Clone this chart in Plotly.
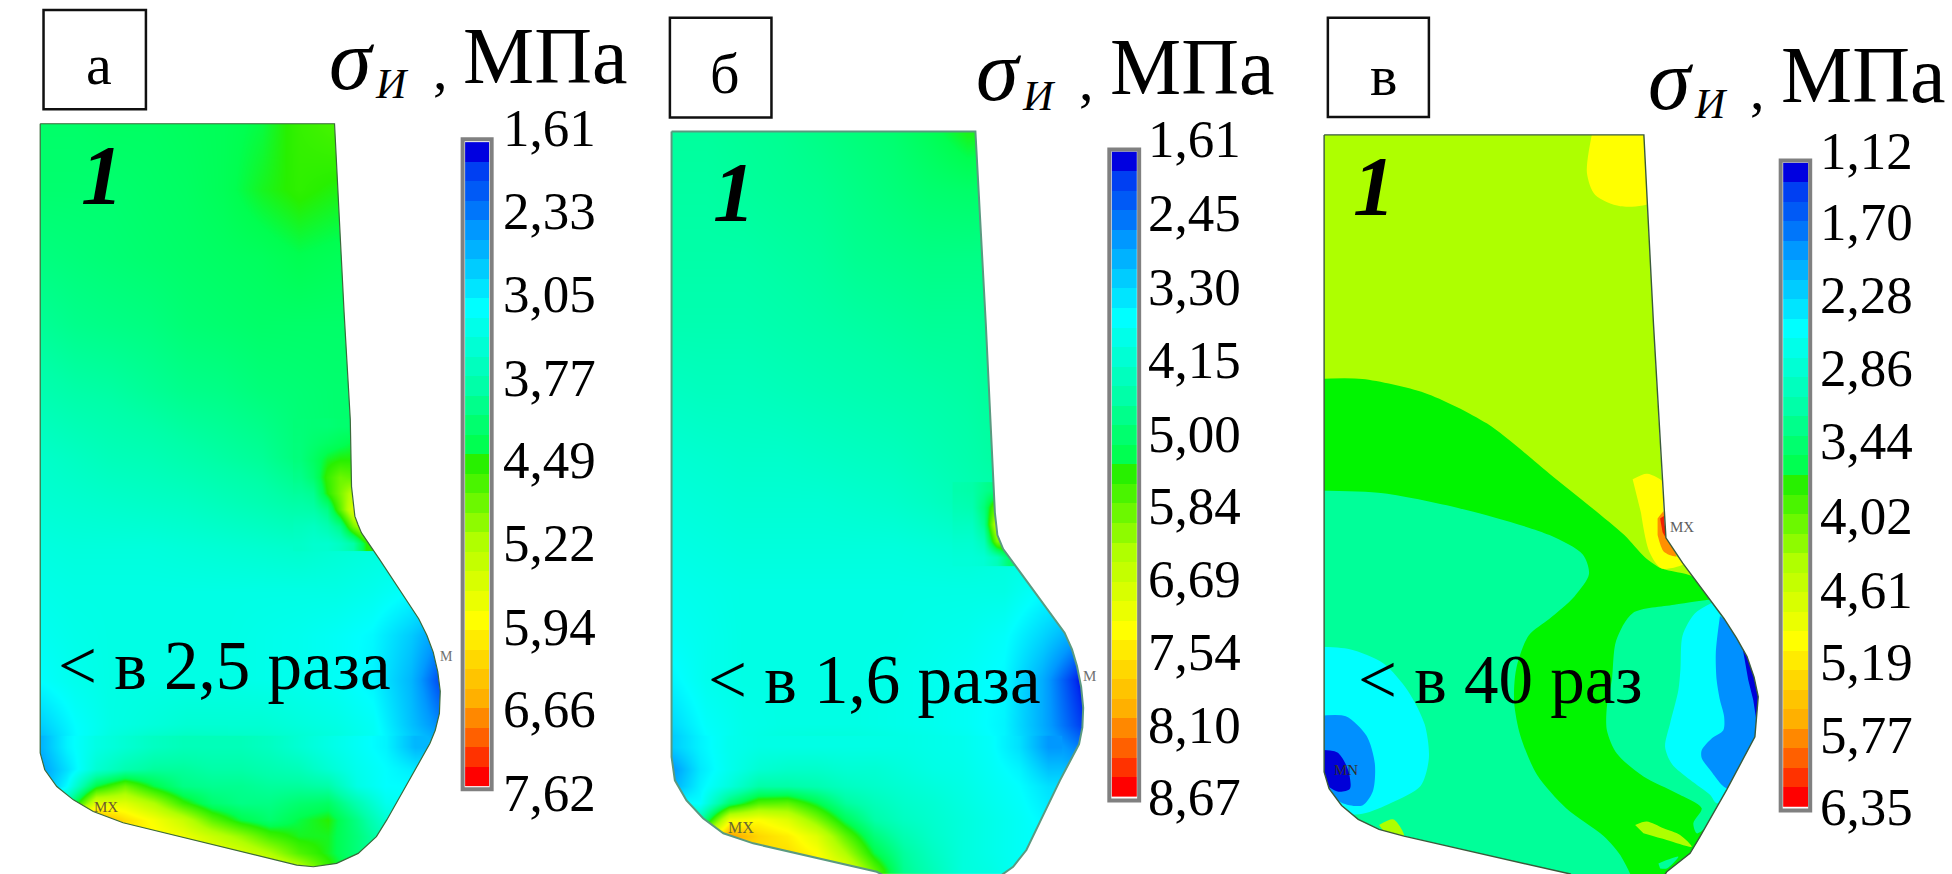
import plotly.graph_objects as go

# Contour levels: position along each scale bar, 0 = first label (blue), 8 = last label (red)
colorscale_levels = [
 [0.000,"#0000E0"],[0.030,"#0030F0"],[0.125,"#0098FF"],[0.250,"#00FFFF"],[0.375,"#00FFA8"],
 [0.470,"#00FF50"],[0.500,"#28F000"],[0.625,"#B0FF00"],[0.750,"#FFFF00"],[0.875,"#FFB000"],
 [0.950,"#FF5000"],[1.000,"#FF0000"]]

bar_levels = [0,0.35,0.55,0.75,1,1.25,1.5,1.75,2,2.25,2.5,2.75,3,3.25,3.5,3.75,4,4.25,4.5,4.75,5,5.25,5.5,5.75,6,6.25,6.5,6.75,7,7.25,7.5,7.75,8]

labels_a = ["1,61","2,33","3,05","3,77","4,49","5,22","5,94","6,66","7,62"]
labels_b = ["1,61","2,45","3,30","4,15","5,00","5,84","6,69","7,54","8,10","8,67"]
labels_c = ["1,12","1,70","2,28","2,86","3,44","4,02","4,61","5,19","5,77","6,35"]
labels_a_y = [230,378,528,678,825,975,1125,1272,1422]
labels_b_y = [250,382,514,645,778,908,1038,1170,1300,1430]
labels_c_y = [270,398,530,660,792,925,1058,1188,1318,1448]

out_a = [(97,222),(807,222),(830,560),(845,753),(848,873),(852,905),(856,926),(864,942),(872,956),(916,1004),(1010,1110),(1030,1140),(1045,1170),(1056,1205),(1062,1240),(1060,1280),(1050,1310),(1037,1334),(933,1471),(908,1501),(864,1531),(812,1549),(756,1555),(716,1552),(297,1476),(225,1456),(177,1435),(137,1411),(108,1381),(97,1351),(97,222)]
out_b = [(52,236),(785,236),(810,580),(832,920),(838,960),(852,985),(1000,1135),(1018,1165),(1030,1195),(1040,1232),(1045,1270),(1043,1305),(1035,1335),(989,1400),(908,1525),(876,1555),(844,1572),(810,1600),(640,1600),(547,1564),(249,1513),(177,1495),(128,1468),(88,1436),(60,1400),(52,1358),(52,236)]
out_c = [(58,242),(827,242),(850,580),(875,920),(880,965),(920,1010),(1020,1110),(1050,1145),(1075,1178),(1092,1215),(1102,1250),(1094,1322),(1026,1417),(962,1501),(938,1531),(882,1564),(850,1600),(700,1600),(650,1568),(250,1500),(190,1488),(140,1470),(100,1445),(70,1415),(58,1385),(58,242)]

grid_a_x = [90,180,270,360,450,540,630,720,810,900,990,1070]
grid_a_y = [220,340,460,580,700,820,900,980,1060,1140,1220,1300,1360,1420,1470,1520,1568]
grid_a = [
 [3.55,3.55,3.6,3.6,3.65,3.7,3.8,4.1,4.25,4.2,4.2,4.2],
 [3.5,3.5,3.5,3.55,3.6,3.7,3.9,4.05,3.95,3.9,3.9,3.9],
 [3.35,3.4,3.45,3.5,3.55,3.6,3.65,3.75,3.7,3.7,3.7,3.7],
 [3.15,3.25,3.3,3.35,3.45,3.5,3.55,3.55,3.55,3.55,3.5,3.5],
 [2.9,3.0,3.05,3.15,3.25,3.3,3.4,3.45,3.5,3.5,3.5,3.5],
 [2.6,2.7,2.8,2.85,2.95,3.05,3.15,3.4,3.5,3.6,3.6,3.6],
 [2.5,2.55,2.6,2.65,2.7,2.8,2.9,3.05,3.2,3.2,3.2,3.2],
 [2.35,2.4,2.4,2.4,2.45,2.5,2.55,2.6,2.5,2.4,2.4,2.4],
 [2.25,2.3,2.3,2.3,2.3,2.3,2.3,2.3,2.3,2.2,2.0,2.0],
 [2.15,2.25,2.3,2.3,2.3,2.3,2.25,2.2,2.1,1.95,1.5,0.9],
 [2.0,2.2,2.3,2.3,2.3,2.3,2.25,2.2,2.1,1.9,1.3,0.3],
 [1.5,2.0,2.3,2.4,2.5,2.5,2.5,2.4,2.3,2.1,1.4,0.8],
 [1.0,1.9,2.5,2.9,3.0,2.9,2.8,2.7,2.5,2.2,1.7,1.6],
 [2.5,3.8,5.0,5.3,4.4,3.4,3.0,2.9,2.8,2.4,2.3,2.2],
 [6.0,7.0,5.8,5.9,5.2,4.2,3.6,3.6,3.3,2.8,2.5,2.5],
 [6.0,6.0,6.0,6.0,5.8,5.3,4.6,4.1,4.0,3.4,3.0,3.0],
 [5.5,5.5,5.5,5.5,5.5,5.5,5.0,4.6,4.3,3.6,3.0,3.0]]

base_a_x = [90,160,230,300,370,440,510,580,650,720,790,860,930,1000]
base_a_y = [1340,1380,1410,1440,1470,1500,1530,1560]
base_a = [
 [1.2,1.9,2.3,2.5,2.7,2.8,2.8,2.8,2.7,2.5,2.3,2.1,1.9,1.3],
 [1.0,1.7,2.5,2.9,3.1,3.1,3.0,3.0,2.9,2.8,2.5,2.2,2.0,1.8],
 [1.0,2.0,3.8,4.5,3.8,3.3,3.2,3.2,3.1,3.1,3.0,2.3,2.0,2.0],
 [2.0,3.0,5.6,5.6,5.0,4.1,3.5,3.3,3.3,3.5,3.6,2.9,2.2,2.0],
 [6.0,6.5,7.2,6.4,5.9,5.3,4.4,3.8,3.5,3.8,4.0,3.3,2.5,2.2],
 [6.0,6.5,6.5,6.3,6.1,5.8,5.3,4.8,4.2,3.9,3.9,3.4,2.8,2.4],
 [6.2,6.2,6.2,6.2,6.2,6.1,5.8,5.5,5.0,4.3,3.9,3.4,2.8,2.4],
 [6.2,6.2,6.2,6.2,6.2,6.2,6.2,6.0,5.8,5.3,4.2,3.4,2.8,2.4]]

notch_a_x = [723,755,788,820,852,884]
notch_a_y = [765,795,825,855,885,914,944,974]
notch_a = [
 [3.42,3.45,3.45,3.5,3.5,3.5],
 [3.4,3.5,3.6,3.7,3.8,3.8],
 [3.38,3.6,3.9,4.0,4.0,4.0],
 [3.25,3.5,4.1,4.5,4.4,4.4],
 [3.1,3.2,4.0,4.6,5.2,5.2],
 [2.95,3.0,3.3,4.4,5.6,5.9],
 [2.75,2.7,2.9,3.3,4.6,5.4],
 [2.62,2.55,2.55,2.7,3.0,4.0]]

grid_b_x = [45,135,225,315,405,495,585,675,765,855,945,1045]
grid_b_y = [230,340,460,580,700,820,900,980,1060,1140,1220,1300,1360,1420,1470,1520,1570]
grid_b = [
 [3.1,3.1,3.15,3.2,3.3,3.4,3.5,3.7,3.95,3.95,3.9,3.9],
 [3.05,3.05,3.1,3.15,3.2,3.3,3.4,3.5,3.55,3.5,3.5,3.5],
 [3.0,3.0,3.0,3.05,3.1,3.2,3.25,3.3,3.3,3.3,3.3,3.3],
 [2.9,2.9,2.9,2.95,3.0,3.05,3.1,3.15,3.15,3.2,3.2,3.2],
 [2.7,2.75,2.75,2.8,2.85,2.9,2.95,3.0,3.05,3.15,3.2,3.2],
 [2.5,2.55,2.6,2.6,2.65,2.7,2.75,2.85,2.95,3.1,3.1,3.1],
 [2.4,2.45,2.5,2.5,2.5,2.55,2.6,2.7,2.85,3.0,3.0,3.0],
 [2.3,2.35,2.4,2.4,2.4,2.4,2.4,2.45,2.5,2.4,2.4,2.4],
 [2.2,2.25,2.3,2.3,2.3,2.3,2.3,2.3,2.3,2.3,2.0,2.0],
 [2.1,2.2,2.3,2.3,2.3,2.3,2.3,2.25,2.2,2.05,1.6,1.0],
 [1.9,2.2,2.3,2.3,2.3,2.3,2.25,2.2,2.1,1.95,1.2,0.0],
 [1.6,2.05,2.25,2.3,2.3,2.3,2.25,2.2,2.1,1.9,1.2,0.3],
 [1.2,1.9,2.3,2.5,2.6,2.55,2.45,2.35,2.25,1.95,1.4,1.0],
 [2.0,3.2,4.6,5.0,4.4,3.5,3.0,2.5,2.3,2.1,1.9,1.8],
 [5.0,5.6,6.0,5.9,5.3,4.4,3.5,2.8,2.5,2.3,2.1,2.0],
 [6.5,6.5,6.3,6.2,5.9,5.3,4.4,3.4,2.8,2.4,2.2,2.0],
 [6.0,6.0,6.0,6.0,6.0,5.8,5.0,4.0,3.0,2.5,2.2,2.0]]

base_b_x = [50,120,190,260,330,400,470,540,610,680,750,820,890,960]
base_b_y = [1340,1380,1410,1440,1470,1500,1530,1560]
base_b = [
 [1.5,1.9,2.2,2.3,2.3,2.3,2.3,2.3,2.3,2.25,2.2,2.05,1.7,1.0],
 [1.0,1.8,2.2,2.5,2.6,2.6,2.5,2.5,2.4,2.3,2.25,2.1,1.9,1.4],
 [1.2,1.9,2.4,3.0,3.0,2.9,2.7,2.6,2.5,2.4,2.3,2.15,2.0,1.7],
 [2.0,2.0,3.5,4.3,4.4,3.8,3.1,2.8,2.6,2.5,2.35,2.2,2.05,1.8],
 [4.0,3.0,5.8,6.0,5.6,4.7,3.7,3.0,2.7,2.55,2.4,2.25,2.1,1.9],
 [5.0,5.0,7.2,6.5,6.2,5.6,4.4,3.4,2.9,2.6,2.4,2.25,2.1,2.0],
 [6.2,6.2,6.2,6.4,6.4,6.0,5.0,3.8,3.1,2.7,2.4,2.25,2.1,2.0],
 [6.2,6.2,6.2,6.2,6.2,6.2,5.7,4.4,3.2,2.8,2.4,2.3,2.1,2.0]]

notch_b_x = [745,775,805,835,865]
notch_b_y = [880,910,940,970,1000]
notch_b = [
 [2.95,3.0,3.2,3.4,3.4],
 [2.85,2.9,3.4,4.6,4.6],
 [2.7,2.7,3.2,5.4,5.4],
 [2.55,2.55,2.8,4.6,5.0],
 [2.45,2.45,2.5,2.8,3.5]]

reg_c_green = [(40,680),(150,680),(300,705),(450,760),(600,850),(700,910),(780,960),(830,1000),(870,1020),(945,1035),(1000,1085),(1100,1300),(1000,1600),(40,1600)]
reg_c_spring_l = [(40,880),(200,885),(400,915),(600,960),(680,995),(695,1030),(660,1070),(600,1110),(550,1140),(520,1200),(515,1260),(530,1320),(570,1390),(640,1450),(730,1500),(775,1540),(800,1600),(40,1600)]
reg_c_spring_r = [(990,1075),(900,1085),(800,1100),(760,1150),(750,1220),(738,1268),(738,1310),(762,1352),(826,1393),(906,1423),(966,1450),(946,1477),(954,1495),(974,1486),(1060,1400),(1110,1200)]
reg_c_cyan_r = [(1000,1078),(950,1100),(920,1140),(915,1200),(910,1238),(890,1298),(878,1340),(894,1370),(938,1399),(986,1426),(1002,1441),(1040,1420),(1120,1300),(1120,1170)]
reg_c_azure_r = [(1010,1105),(1000,1170),(1002,1220),(1010,1256),(1020,1286),(1018,1310),(990,1325),(966,1346),(966,1360),(986,1381),(1026,1414),(1060,1400),(1120,1300),(1120,1170)]
reg_c_blue_r = [(1065,1165),(1078,1220),(1090,1256),(1098,1295),(1120,1300),(1120,1165)]
reg_c_cyan_l = [(40,1160),(120,1165),(200,1190),(260,1240),(300,1300),(310,1360),(290,1410),(220,1440),(150,1460),(40,1460)]
reg_c_azure_l = [(40,1285),(110,1285),(160,1320),(180,1370),(175,1420),(150,1445),(100,1440),(40,1400)]
reg_c_blue_l = [(40,1345),(90,1350),(115,1380),(120,1415),(90,1420),(40,1395)]
reg_c_yel_top = [(705,230),(690,310),(710,350),(770,370),(850,360),(850,230)]
reg_c_yel_n = [(800,860),(835,850),(880,870),(885,985),(925,1010),(870,1020),(840,990),(820,920)]
reg_c_or = [(860,930),(880,915),(885,965),(905,998),(875,990),(860,960)]
reg_c_red = [(866,930),(880,925),(885,970),(872,955)]
reg_c_blob = [(806,1480),(834,1474),(874,1486),(914,1498),(942,1519),(882,1507),(826,1495)]
reg_c_blob2 = [(190,1480),(225,1470),(250,1500),(210,1500)]
reg_c_blob3 = [(862,1549),(910,1537),(882,1558),(866,1558)]

fig = go.Figure()

def xy(points, axis):
    return dict(x=[p[0] for p in points], y=[p[1] for p in points], xaxis="x"+axis, yaxis="y"+axis)

def fill(points, color, axis, curved=False):
    line = dict(width=0, color=color, shape="spline", smoothing=0.8) if curved else dict(width=0, color=color)
    fig.add_trace(go.Scatter(mode="lines", fill="toself", fillcolor=color, line=line, showlegend=False, hoverinfo="skip", **xy(points, axis)))

def mask(outline, bounds, axis):
    x0, y0, x1, y1 = bounds
    keyhole = [(x0,y0),(x1,y0),(x1,y1),(x0,y1),(x0,y0)] + list(reversed(outline)) + [(x0,y0)]
    fill(keyhole, "#FFFFFF", axis)

def bar(x0, x1, top, bottom, axis):
    n = len(bar_levels)
    dy = (bottom-top)/n
    fig.add_trace(go.Heatmap(z=[[v] for v in bar_levels], x0=(x0+x1)/2, dx=x1-x0, y0=top+dy/2, dy=dy,
                             colorscale=colorscale_levels, zmin=0, zmax=8, showscale=False, hoverinfo="skip",
                             xaxis="x"+axis, yaxis="y"+axis))

def heat(gx, gy, g, axis):
    fig.add_trace(go.Heatmap(z=g, x=gx, y=gy, zsmooth="best", colorscale=colorscale_levels, zmin=0, zmax=8,
                             showscale=False, hoverinfo="skip", xaxis="x"+axis, yaxis="y"+axis))

def outline(points, color, width, axis):
    fig.add_trace(go.Scatter(mode="lines", line=dict(color=color, width=width), showlegend=False, hoverinfo="skip", **xy(points, axis)))

# panel а
heat(grid_a_x, grid_a_y, grid_a, "")
heat(base_a_x, base_a_y, base_a, "")
heat(notch_a_x, notch_a_y, notch_a, "")
mask(out_a, (0,150,1116,1600), "")
bar(1122, 1180, 255, 1411, "")
outline(out_a, "#3A6A3A", 1.2, "")

# panel б
heat(grid_b_x, grid_b_y, grid_b, "2")
heat(base_b_x, base_b_y, base_b, "2")
heat(notch_b_x, notch_b_y, notch_b, "2")
mask(out_b, (-5,160,1106,1600), "2")
bar(1114, 1174, 272, 1430, "2")
outline(out_b, "#5A9A80", 2, "2")

# panel в
fill(out_c, "#AEFF00", "3")
for pts, col, curved in [(reg_c_green,"#00F500",True),(reg_c_spring_l,"#00FF99",True),(reg_c_spring_r,"#00FF99",True),
                 (reg_c_cyan_r,"#00FFFF",True),(reg_c_azure_r,"#0090FF",True),(reg_c_blue_r,"#0000D8",False),
                 (reg_c_cyan_l,"#00FFFF",True),(reg_c_azure_l,"#0090FF",True),(reg_c_blue_l,"#0000D8",True),
                 (reg_c_yel_top,"#FFFF00",True),(reg_c_yel_n,"#FFFF00",True),(reg_c_or,"#FF9000",True),(reg_c_red,"#F02000",True),
                 (reg_c_blob,"#AEFF00",True),(reg_c_blob2,"#AEFF00",True),(reg_c_blob3,"#00FF99",True)]:
    fill(pts, col, "3", curved)
mask(out_c, (30,225,1135,1600), "3")
outline(out_c, "#3A5A3A", 1.4, "3")
bar(1162, 1222, 292, 1448, "3")

serif = "Liberation Serif"
ann, shapes = [], []
def text(s, x, y, size, axis, anchor="left", color="#000000"):
    ann.append(dict(text=s, x=x, y=y, xref="x"+axis, yref="y"+axis, xanchor=anchor, yanchor="middle",
                    showarrow=False, font=dict(family=serif, size=size, color=color)))
def box(x0, y0, x1, y1, axis):
    shapes.append(dict(type="rect", x0=x0, y0=y0, x1=x1, y1=y1, xref="x"+axis, yref="y"+axis, line=dict(color="#101010", width=2.5), layer="above"))
def bar_frame(x0, y0, x1, y1, axis):
    shapes.append(dict(type="rect", x0=x0, y0=y0, x1=x1, y1=y1, xref="x"+axis, yref="y"+axis, line=dict(color="#808080", width=4), layer="above"))

panels = [
 ("", "а", 238, 115, (105,18,352,196), 790, 108, 900, 150, 1040, 1112, 100, (1116,250,1186,1416), labels_a, labels_a_y, 1208, (190,315), "&lt; в 2,5 раза", (135,1195)),
 ("2","б", 180, 132, (48,32,293,211), 782, 128, 893, 172, 1030, 1105, 120, (1108,268,1180,1436), labels_b, labels_b_y, 1197, (148,345), "&lt; в 1,6 раза", (135,1220)),
 ("3","в", 202, 135, (67,32,310,210), 832, 143, 943, 187, 1078, 1152, 135, (1156,288,1227,1454), labels_c, labels_c_y, 1246, (122,335), "&lt; в 40 раз", (135,1220)),
]
for ax, letter, lx, ly, b, sx, sy, ix, iy, cx, mx, my, f, labs, ys, tx, one, note, np_ in panels:
    box(*b, ax)
    text(letter, lx, ly, 58, ax, "center")
    text("<i>σ</i>", sx, sy, 86, ax)
    text("<i>И</i>", ix, iy, 42, ax)
    text(",", cx, sy+17, 58, ax)
    text("МПа", mx, my, 80, ax)
    bar_frame(*f, ax)
    for s, y in zip(labs, ys):
        text(s, tx, y, 53, ax)
    text("<b><i>1</i></b>", one[0], one[1], 84, ax)
    text(note, np_[0], np_[1], 69, ax)

text("MX", 222, 1448, 15, "", color="#6A5A30")
text("M", 1056, 1178, 14, "", color="#707070")
text("MX", 183, 1484, 16, "2", color="#6A6A30")
text("M", 1040, 1212, 15, "2", color="#707070")
text("MX", 885, 945, 15, "3", color="#606060")
text("MN", 78, 1382, 15, "3", color="#303030")

W = 1952
hidden = dict(visible=False, fixedrange=True, showgrid=False, zeroline=False)
lay = dict(width=W, height=874, margin=dict(l=0, r=0, t=0, b=0), paper_bgcolor="#FFFFFF", plot_bgcolor="#FFFFFF",
           showlegend=False, annotations=ann, shapes=shapes)
for ax, d in [("", (0,650)), ("2", (650,1300)), ("3", (1300,1952))]:
    lay["xaxis"+ax] = dict(hidden, domain=[d[0]/W, d[1]/W], range=[0,1568], anchor="y"+ax)
    lay["yaxis"+ax] = dict(hidden, domain=[0,1], range=[1568,0], anchor="x"+ax)
fig.update_layout(**lay)
fig.write_html("out.html", post_script="document.body.style.margin='0';document.body.style.overflow='hidden';", config=dict(displayModeBar=False))
